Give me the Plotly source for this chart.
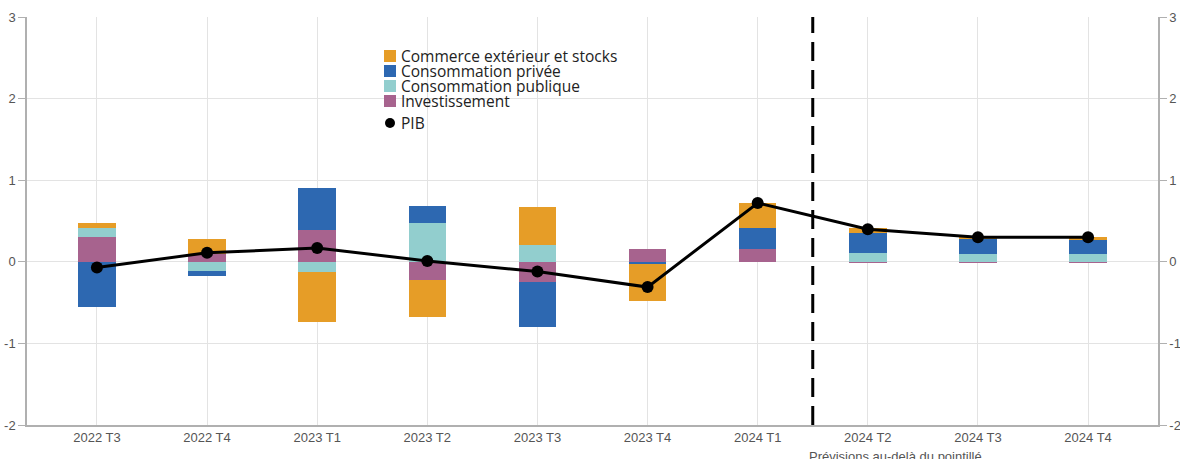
import plotly.graph_objects as go

# Quarterly contributions to GDP growth (percentage points)
quarters = ["2022 T3", "2022 T4", "2023 T1", "2023 T2", "2023 T3",
            "2023 T4", "2024 T1", "2024 T2", "2024 T3", "2024 T4"]
investissement = [0.31, 0.10, 0.39, -0.22, -0.25, 0.16, 0.16, -0.02, -0.01, -0.01]
conso_publique = [0.11, -0.11, -0.13, 0.47, 0.21, 0.00, 0.00, 0.11, 0.09, 0.09]
conso_privee = [-0.55, -0.06, 0.52, 0.22, -0.55, -0.03, 0.26, 0.245, 0.20, 0.18]
commerce_stocks = [0.06, 0.18, -0.61, -0.46, 0.46, -0.45, 0.30, 0.06, 0.015, 0.035]
pib = [-0.07, 0.11, 0.17, 0.01, -0.12, -0.31, 0.72, 0.40, 0.30, 0.30]

y_ticks = [-2, -1, 0, 1, 2, 3]
y_tick_text = ["-2", "-1", "0", "1", "2", "3"]

series = [
    ("Investissement", investissement, "#A7638E"),
    ("Consommation publique", conso_publique, "#92CECE"),
    ("Consommation privée", conso_privee, "#2D68B1"),
    ("Commerce extérieur et stocks", commerce_stocks, "#E69D27"),
]

W, H = 1180, 459
ML, MR, MT, MB = 27, 22, 17, 34
PW, PH = W - ML - MR, H - MT - MB

def px_x(x):
    return (x - ML) / PW

def px_y(y):
    return 1 - (y - MT) / PH

TICK_FONT = dict(family="Liberation Sans Narrow, Arial Narrow, sans-serif",
                 size=13, color="#555555")
TEXT_FONT = dict(family="Open Sans, Noto Sans, sans-serif", size=15.5, color="#222222")

fig = go.Figure()
for name, vals, color in series:
    fig.add_trace(go.Bar(x=quarters, y=vals, name=name, width=0.34,
                         marker=dict(color=color, line=dict(width=0)),
                         showlegend=False))

fig.add_trace(go.Scatter(x=quarters, y=pib, name="PIB", mode="lines+markers",
                         line=dict(color="black", width=3),
                         marker=dict(color="black", size=12),
                         showlegend=False))

# Forecast separator between 2024 T1 and 2024 T2
fig.add_shape(type="line", xref="x", yref="paper", x0=6.5, x1=6.5, y0=0, y1=1,
              line=dict(color="black", width=3, dash="19px,9px"))

fig.add_annotation(text="Prévisions au-delà du pointillé", xref="x", yref="paper",
                   x=6.45, y=-0.055, xanchor="left", yanchor="top", showarrow=False,
                   font=TICK_FONT)

# Legend block
legend_rows = [
    ("Commerce extérieur et stocks", "#E69D27", 56),
    ("Consommation privée", "#2D68B1", 71),
    ("Consommation publique", "#92CECE", 86),
    ("Investissement", "#A7638E", 101),
]
for label, color, yc in legend_rows:
    fig.add_shape(type="rect", xref="paper", yref="paper",
                  x0=px_x(384), x1=px_x(396), y0=px_y(yc + 6), y1=px_y(yc - 6),
                  fillcolor=color, line=dict(width=0), layer="above")
    fig.add_annotation(text=label, xref="paper", yref="paper", x=px_x(399),
                       y=px_y(yc), xanchor="left", yanchor="middle",
                       showarrow=False, font=TEXT_FONT)
fig.add_shape(type="circle", xref="paper", yref="paper",
              x0=px_x(385), x1=px_x(395), y0=px_y(128), y1=px_y(118),
              fillcolor="black", line=dict(width=0), layer="above")
fig.add_annotation(text="PIB", xref="paper", yref="paper", x=px_x(399),
                   y=px_y(123), xanchor="left", yanchor="middle",
                   showarrow=False, font=TEXT_FONT)

axis_common = dict(range=[-2, 3], tickvals=y_ticks, ticktext=y_tick_text,
                   tickfont=TICK_FONT, ticks="outside",
                   ticklen=7, tickcolor="#b0b0b0", showline=True,
                   linecolor="#b0b0b0", linewidth=1.5, zeroline=False,
                   automargin=False)

fig.update_layout(
    width=W, height=H,
    margin=dict(l=ML, r=MR, t=MT, b=MB),
    barmode="relative",
    bargap=0,
    plot_bgcolor="white",
    paper_bgcolor="white",
    showlegend=False,
    xaxis=dict(type="category", range=[-0.635, 9.635], tickfont=TICK_FONT,
               showgrid=True, gridcolor="#e3e3e3", gridwidth=1,
               showline=True, linecolor="#b0b0b0", linewidth=1.5, ticks="",
               automargin=False),
    yaxis=dict(**axis_common, showgrid=True, gridcolor="#e3e3e3", gridwidth=1),
    yaxis2=dict(**axis_common, overlaying="y", side="right", showgrid=False),
)
# invisible trace to activate the right-hand axis
fig.add_trace(go.Scatter(x=[quarters[0]], y=[0], yaxis="y2", mode="markers",
                         marker=dict(opacity=0), showlegend=False, hoverinfo="skip"))

fig.write_html("out.html")
